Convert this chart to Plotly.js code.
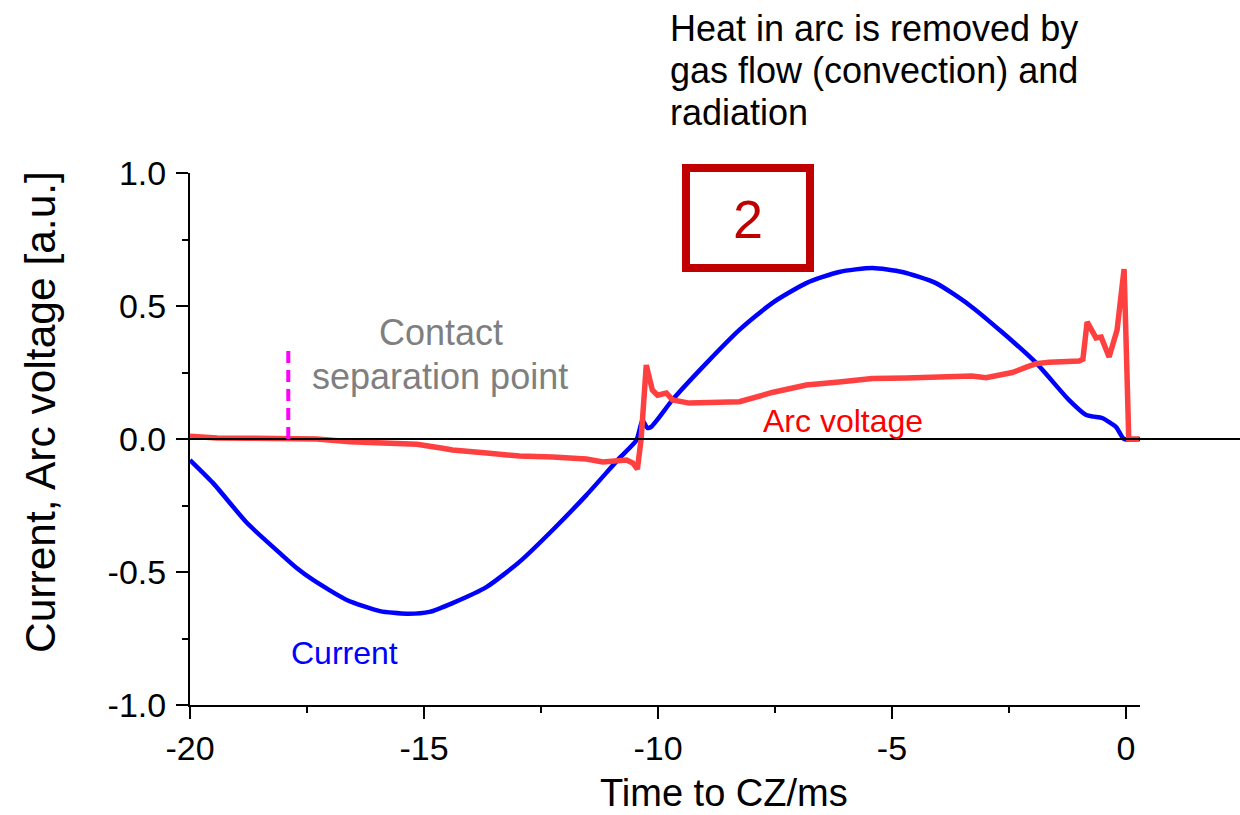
<!DOCTYPE html>
<html>
<head>
<meta charset="utf-8">
<script src="https://cdn.plot.ly/plotly-3.0.1.min.js"></script>
<style>html,body{margin:0;padding:0;background:#fff;}#chart{width:1240px;height:815px;}</style>
</head>
<body>
<div id="chart"></div>
<script>
// Current trace (blue)
const currentX = [-20, -19.51, -18.78, -18.08, -17.72, -17.37, -16.65, -15.94, -15.37, -14.88, -14.39, -13.66, -12.96, -12.25, -11.53, -10.82, -10.46, -10.33, -10.23, -10.15, -9.69, -8.96, -8.26, -7.56, -6.83, -6.13, -5.42, -4.78, -4.06, -3.35, -2.65, -1.92, -1.22, -0.85, -0.68, -0.51, -0.21, -0.04, 0.3];
const currentY = [-0.079, -0.165, -0.316, -0.429, -0.485, -0.530, -0.605, -0.647, -0.657, -0.650, -0.617, -0.556, -0.462, -0.342, -0.211, -0.071, -0.004, 0.07, 0.042, 0.045, 0.147, 0.286, 0.41, 0.511, 0.586, 0.628, 0.643, 0.628, 0.586, 0.504, 0.402, 0.286, 0.147, 0.09, 0.084, 0.079, 0.045, 0.0, 0.0];

// Arc voltage trace (red)
const arcX = [-20, -19.42, -18.72, -17.93, -17.29, -16.58, -15.88, -15.15, -14.60, -14.39, -13.66, -12.96, -12.25, -11.53, -11.18, -10.67, -10.54, -10.44, -10.36, -10.25, -10.12, -10.01, -9.82, -9.69, -9.33, -8.62, -8.26, -7.56, -6.83, -6.13, -5.42, -4.70, -4.0, -3.29, -2.99, -2.43, -2.13, -1.92, -1.64, -1.00, -0.92, -0.83, -0.64, -0.53, -0.36, -0.19, -0.04, 0.06, 0.28];
const arcY = [0.01, 0.004, 0.003, 0.003, 0.0, -0.01, -0.015, -0.02, -0.035, -0.041, -0.053, -0.064, -0.068, -0.075, -0.086, -0.079, -0.09, -0.113, 0.0, 0.278, 0.184, 0.165, 0.173, 0.147, 0.135, 0.135, 0.14, 0.175, 0.203, 0.214, 0.227, 0.229, 0.233, 0.237, 0.23, 0.25, 0.27, 0.283, 0.289, 0.293, 0.30, 0.44, 0.38, 0.383, 0.308, 0.41, 0.639, 0.0, 0.0];

// Ticks
const xTickVals = [-20, -15, -10, -5, 0];
const xTickText = ["-20", "-15", "-10", "-5", "0"];
const yTickVals = [-1, -0.5, 0, 0.5, 1];
const yTickText = ["-1.0", "-0.5", "0.0", "0.5", "1.0"];

// Contact separation point
const separationX = -17.9;
const separationTop = 0.34;

const FONT = "Liberation Sans, Arial, sans-serif";

const traces = [
  {x: currentX, y: currentY, type: "scatter", mode: "lines", line: {color: "#0000ff", width: 4.5, shape: "spline", smoothing: 0.6}, hoverinfo: "skip"},
  {x: arcX, y: arcY, type: "scatter", mode: "lines", line: {color: "#ff4040", width: 5.5}, hoverinfo: "skip"}
];

const P = (px) => (px - 190) / 950;
const Q = (py) => (705 - py) / 532;

const layout = {
  width: 1240, height: 815,
  margin: {l: 190, r: 100, t: 173, b: 110},
  paper_bgcolor: "#ffffff", plot_bgcolor: "#ffffff",
  showlegend: false,
  font: {family: FONT, color: "#000"},
  xaxis: {
    range: [-20, 0.3], tickvals: xTickVals, ticktext: xTickText,
    ticks: "outside", ticklen: 12, tickwidth: 2, tickcolor: "#000",
    showline: true, linewidth: 2, linecolor: "#000",
    showgrid: false, zeroline: false,
    tickfont: {size: 34, family: FONT},
    ticklabelstandoff: 0,
    minor: {dtick: 2.5, tick0: 0, ticks: "outside", ticklen: 6, tickwidth: 2, tickcolor: "#000", showgrid: false}
  },
  yaxis: {
    range: [-1, 1], tickvals: yTickVals, ticktext: yTickText,
    ticks: "outside", ticklen: 12, tickwidth: 2, tickcolor: "#000",
    showline: true, linewidth: 2, linecolor: "#000",
    showgrid: false, zeroline: false,
    tickfont: {size: 34, family: FONT},
    ticklabelstandoff: 3,
    minor: {dtick: 0.25, tick0: 0, ticks: "outside", ticklen: 6, tickwidth: 2, tickcolor: "#000", showgrid: false}
  },
  shapes: [
    {type: "line", xref: "paper", yref: "y", x0: 0, x1: P(1240), y0: 0, y1: 0, line: {color: "#000", width: 1.8}},
    {type: "line", xref: "x", yref: "y", x0: separationX, x1: separationX, y0: 0, y1: separationTop, line: {color: "#ff00ff", width: 4, dash: "12px,7px"}},
    {type: "rect", xref: "paper", yref: "paper", x0: P(686), x1: P(810), y0: Q(268), y1: Q(168), line: {color: "#c00000", width: 8}}
  ],
  annotations: [
    {xref: "paper", yref: "paper", x: P(724), y: Q(815), xanchor: "center", yanchor: "bottom", borderpad: 0, showarrow: false, text: "Time to CZ/ms", font: {size: 38, color: "#000", family: FONT}},
    {xref: "paper", yref: "paper", x: P(40), y: Q(412), xanchor: "center", yanchor: "middle", textangle: -90, showarrow: false, text: "Current, Arc voltage [a.u.]", font: {size: 42.5, color: "#000", family: FONT}},
    {xref: "paper", yref: "paper", x: P(668), y: Q(28), xanchor: "left", yanchor: "middle", showarrow: false, text: "Heat in arc is removed by", font: {size: 36, color: "#000", family: FONT}},
    {xref: "paper", yref: "paper", x: P(668), y: Q(70), xanchor: "left", yanchor: "middle", showarrow: false, text: "gas flow (convection) and", font: {size: 36, color: "#000", family: FONT}},
    {xref: "paper", yref: "paper", x: P(668), y: Q(112), xanchor: "left", yanchor: "middle", showarrow: false, text: "radiation", font: {size: 36, color: "#000", family: FONT}},
    {xref: "paper", yref: "paper", x: P(441), y: Q(332), xanchor: "center", yanchor: "middle", showarrow: false, text: "Contact", font: {size: 36, color: "#7f7f7f", family: FONT}},
    {xref: "paper", yref: "paper", x: P(440), y: Q(376), xanchor: "center", yanchor: "middle", showarrow: false, text: "separation point", font: {size: 36, color: "#7f7f7f", family: FONT}},
    {xref: "paper", yref: "paper", x: P(843), y: Q(421), xanchor: "center", yanchor: "middle", showarrow: false, text: "Arc voltage", font: {size: 32, color: "#ff0000", family: FONT}},
    {xref: "paper", yref: "paper", x: P(344), y: Q(653), xanchor: "center", yanchor: "middle", showarrow: false, text: "Current", font: {size: 32, color: "#0000ff", family: FONT}},
    {xref: "paper", yref: "paper", x: P(748), y: Q(219), xanchor: "center", yanchor: "middle", showarrow: false, text: "2", font: {size: 54, color: "#c00000", family: FONT}}
  ]
};

Plotly.newPlot("chart", traces, layout, {displayModeBar: false, staticPlot: true});
</script>
</body>
</html>
